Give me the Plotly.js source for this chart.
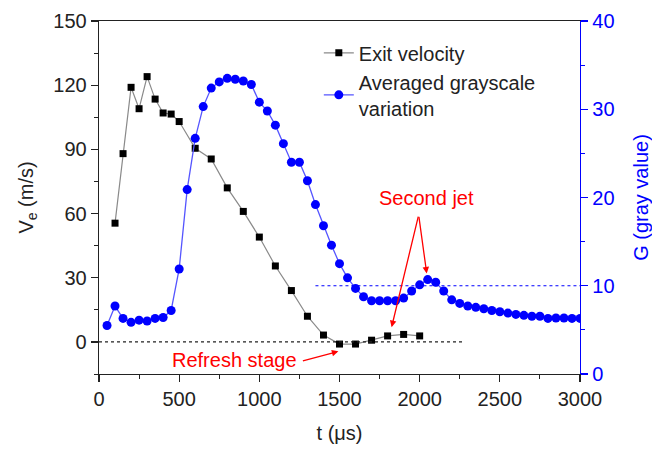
<!DOCTYPE html>
<html>
<head>
<meta charset="utf-8">
<script src="https://cdn.plot.ly/plotly-3.0.1.min.js"></script>
<style>html,body{margin:0;padding:0;background:#fff;}#chart{width:652px;height:450px;}</style>
</head>
<body>
<div id="chart"></div>
<script>
// Exit velocity (left axis, m/s)
const tVelocity = [100,150,200,250,300,350,400,450,500,600,700,800,900,1000,1100,1200,1300,1400,1500,1600,1700,1800,1900,2000];
const exitVelocity = [55.5,88,119,109,124,113.5,107,106.5,103,90.5,85.5,72,61,49,35.5,24,12,3.2,-1,-1,0.8,2.8,3.5,2.8];

// Averaged grayscale variation (right axis, gray value)
const tGray = [50,100,150,200,250,300,350,400,450,500,550,600,650,700,750,800,850,900,950,1000,
  1050,1100,1150,1200,1250,1300,1350,1400,1450,1500,1550,1600,1650,1700,1750,1800,1850,1900,1950,2000,
  2050,2100,2150,2200,2250,2300,2350,2400,2450,2500,2550,2600,2650,2700,2750,2800,2850,2900,2950,3000];
const grayValue = [5.5,7.7,6.3,5.85,6.1,6.0,6.3,6.4,7.2,11.9,20.9,26.7,30.3,32.4,33.1,33.5,33.4,33.2,32.8,30.8,
  29.8,28.2,26.1,24.0,24.0,21.9,19.2,16.8,14.6,12.5,10.9,9.7,8.75,8.3,8.3,8.3,8.3,8.6,9.4,10.1,
  10.7,10.4,9.4,8.4,8.0,7.7,7.55,7.4,7.2,7.05,6.9,6.75,6.65,6.55,6.55,6.3,6.35,6.35,6.3,6.3];

// Reference lines
const zeroLineX = [0, 2280];
const zeroLineY = 0;
const grayRefX = [1350, 3000];
const grayRefY = 10;

const FONT = "Liberation Sans, Arial, sans-serif";

const traces = [
  {
    x: tVelocity, y: exitVelocity, name: "Exit velocity",
    type: "scatter", mode: "lines+markers",
    line: {color: "#8a8a8a", width: 1.2},
    marker: {symbol: "square", size: 7, color: "#000000"},
    yaxis: "y"
  },
  {
    x: tGray, y: grayValue, name: "Averaged grayscale<br>variation",
    type: "scatter", mode: "lines+markers",
    line: {color: "#5555ff", width: 1.3},
    marker: {symbol: "circle", size: 9, color: "#0000ff"},
    yaxis: "y2"
  }
];

const layout = {
  width: 652, height: 450,
  margin: {l: 99, r: 72, t: 21, b: 76},
  paper_bgcolor: "#ffffff", plot_bgcolor: "#ffffff",
  font: {family: FONT, size: 20, color: "#222222"},
  showlegend: true,
  legend: {
    x: 0.457, y: 0.965, xanchor: "left", yanchor: "top",
    bgcolor: "rgba(0,0,0,0)", font: {family: FONT, size: 20, color: "#222222"},
    tracegroupgap: 0, itemwidth: 30
  },
  xaxis: {
    range: [0, 3000], tickvals: [0,500,1000,1500,2000,2500,3000],
    showgrid: false, zeroline: false,
    showline: true, linecolor: "#222222", linewidth: 1.3, mirror: true,
    ticks: "outside", ticklen: 7, tickwidth: 1.3, tickcolor: "#222222",
    minor: {dtick: 250, ticks: "outside", ticklen: 4, tickwidth: 1, tickcolor: "#222222"},
    tickfont: {family: FONT, size: 20, color: "#222222"},
    title: {text: "t (\u03bcs)", font: {family: FONT, size: 20, color: "#222222"}, standoff: 16}
  },
  yaxis: {
    range: [-15, 150], tickvals: [0,30,60,90,120,150],
    showgrid: false, zeroline: false,
    showline: true, linecolor: "#222222", linewidth: 1.3,
    ticks: "outside", ticklen: 7, tickwidth: 1.3, tickcolor: "#222222",
    minor: {dtick: 15, ticks: "outside", ticklen: 4, tickwidth: 1, tickcolor: "#222222"},
    tickfont: {family: FONT, size: 20, color: "#222222"},
    title: {text: "V<sub>e</sub> (m/s)", font: {family: FONT, size: 20, color: "#222222"}, standoff: 14}
  },
  yaxis2: {
    range: [0, 40], tickvals: [0,10,20,30,40],
    overlaying: "y", side: "right",
    showgrid: false, zeroline: false,
    showline: true, linecolor: "#0000ff", linewidth: 1.3,
    ticks: "outside", ticklen: 7, tickwidth: 1.3, tickcolor: "#0000ff",
    minor: {dtick: 5, ticks: "outside", ticklen: 4, tickwidth: 1, tickcolor: "#0000ff"},
    tickfont: {family: FONT, size: 20, color: "#0000ff"},
    title: {text: "G (gray value)", font: {family: FONT, size: 20, color: "#0000ff"}, standoff: 20}
  },
  shapes: [
    {type: "line", xref: "x", yref: "y", x0: zeroLineX[0], x1: zeroLineX[1], y0: zeroLineY, y1: zeroLineY,
     line: {color: "#222222", width: 1.2, dash: "3px,3px"}},
    {type: "line", xref: "x", yref: "y2", x0: grayRefX[0], x1: grayRefX[1], y0: grayRefY, y1: grayRefY,
     line: {color: "#0000ff", width: 1.2, dash: "3px,3px"}}
  ],
  annotations: [
    {xref: "x", yref: "y2", x: 2043, y: 20.0, text: "Second jet", showarrow: false,
     font: {family: FONT, size: 20, color: "#ff0000"}},
    {xref: "x", yref: "y2", x: 2044, y: 11.4, text: "", showarrow: true,
     ax: -8, ay: -58, arrowhead: 2, arrowsize: 1, arrowwidth: 1.3, arrowcolor: "#ff0000"},
    {xref: "x", yref: "y", x: 1825, y: 6.9, text: "", showarrow: true,
     ax: 27, ay: -112, arrowhead: 2, arrowsize: 1, arrowwidth: 1.3, arrowcolor: "#ff0000"},
    {xref: "x", yref: "y", x: 848, y: -8.4, text: "Refresh stage", showarrow: false,
     font: {family: FONT, size: 20, color: "#ff0000"}},
    {xref: "x", yref: "y", x: 1493, y: -4.4, text: "", showarrow: true,
     ax: -37, ay: 10, arrowhead: 2, arrowsize: 1, arrowwidth: 1.3, arrowcolor: "#ff0000"}
  ]
};

Plotly.newPlot("chart", traces, layout, {displayModeBar: false, staticPlot: true});
</script>
</body>
</html>
